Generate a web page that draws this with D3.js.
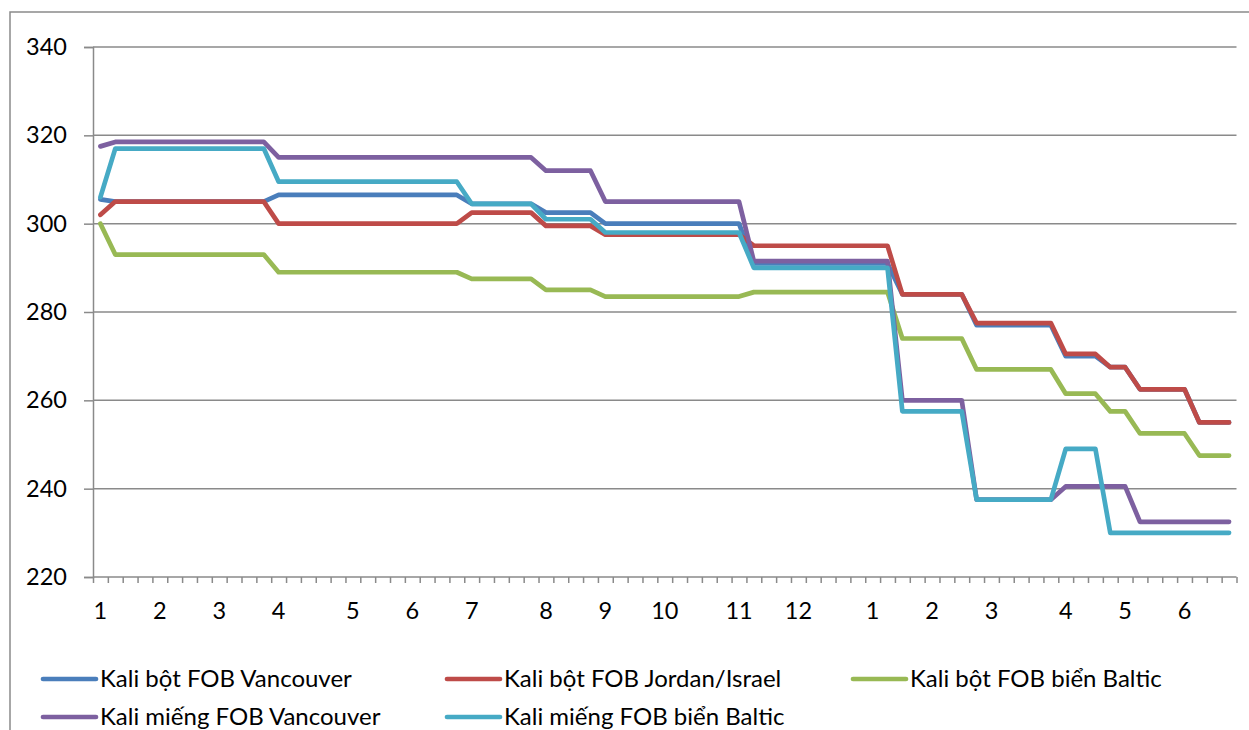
<!DOCTYPE html>
<html>
<head>
<meta charset="utf-8">
<script src="https://cdn.jsdelivr.net/npm/d3@7/dist/d3.min.js"></script>
<style>
  html, body { margin: 0; padding: 0; background: #fff; }
  svg { display: block; }
  text { font-family: Lato, "Open Sans", sans-serif; fill: #000; }
</style>
</head>
<body>
<svg id="chart" width="1249" height="730"></svg>
<script>
// ---- Data (weekly observations; month number shown at first week of each month) ----
const xLabels = [
  "1","","","","2","","","","3","",
  "","","4","","","","","5","","",
  "","6","","","","7","","","","",
  "8","","","","9","","","","10","",
  "","","","11","","","","12","","",
  "","","1","","","","2","","","",
  "3","","","","","4","","","","5",
  "","","","6","","",""
];

const seriesNames = [
  "Kali bột FOB Vancouver",
  "Kali bột FOB Jordan/Israel",
  "Kali bột FOB biển Baltic",
  "Kali miếng FOB Vancouver",
  "Kali miếng FOB biển Baltic"
];

const kaliBotVancouver = [
  305.5,305,305,305,305,305,305,305,305,305,
  305,305,306.5,306.5,306.5,306.5,306.5,306.5,306.5,306.5,
  306.5,306.5,306.5,306.5,306.5,304.5,304.5,304.5,304.5,304.5,
  302.5,302.5,302.5,302.5,300,300,300,300,300,300,
  300,300,300,300,291,291,291,291,291,291,
  291,291,291,291,284,284,284,284,284,277,
  277,277,277,277,277,270,270,270,267.5,267.5,
  262.5,262.5,262.5,262.5,255,255,255
];

const kaliBotJordan = [
  302,305,305,305,305,305,305,305,305,305,
  305,305,300,300,300,300,300,300,300,300,
  300,300,300,300,300,302.5,302.5,302.5,302.5,302.5,
  299.5,299.5,299.5,299.5,297.5,297.5,297.5,297.5,297.5,297.5,
  297.5,297.5,297.5,297.5,295,295,295,295,295,295,
  295,295,295,295,284,284,284,284,284,277.5,
  277.5,277.5,277.5,277.5,277.5,270.5,270.5,270.5,267.5,267.5,
  262.5,262.5,262.5,262.5,255,255,255
];

const kaliBotBaltic = [
  300,293,293,293,293,293,293,293,293,293,
  293,293,289,289,289,289,289,289,289,289,
  289,289,289,289,289,287.5,287.5,287.5,287.5,287.5,
  285,285,285,285,283.5,283.5,283.5,283.5,283.5,283.5,
  283.5,283.5,283.5,283.5,284.5,284.5,284.5,284.5,284.5,284.5,
  284.5,284.5,284.5,284.5,274,274,274,274,274,267,
  267,267,267,267,267,261.5,261.5,261.5,257.5,257.5,
  252.5,252.5,252.5,252.5,247.5,247.5,247.5
];

const kaliMiengVancouver = [
  317.5,318.5,318.5,318.5,318.5,318.5,318.5,318.5,318.5,318.5,
  318.5,318.5,315,315,315,315,315,315,315,315,
  315,315,315,315,315,315,315,315,315,315,
  312,312,312,312,305,305,305,305,305,305,
  305,305,305,305,291.5,291.5,291.5,291.5,291.5,291.5,
  291.5,291.5,291.5,291.5,260,260,260,260,260,237.5,
  237.5,237.5,237.5,237.5,237.5,240.5,240.5,240.5,240.5,240.5,
  232.5,232.5,232.5,232.5,232.5,232.5,232.5
];

const kaliMiengBaltic = [
  306,317,317,317,317,317,317,317,317,317,
  317,317,309.5,309.5,309.5,309.5,309.5,309.5,309.5,309.5,
  309.5,309.5,309.5,309.5,309.5,304.5,304.5,304.5,304.5,304.5,
  301,301,301,301,298,298,298,298,298,298,
  298,298,298,298,290,290,290,290,290,290,
  290,290,290,290,257.5,257.5,257.5,257.5,257.5,237.5,
  237.5,237.5,237.5,237.5,237.5,249,249,249,230,230,
  230,230,230,230,230,230,230
];

const yTicks = [220, 240, 260, 280, 300, 320, 340];
const colors = ["#4A7EBB", "#BE4B48", "#98B954", "#7D60A0", "#46AAC5"];

// ---- Layout ----
const svg = d3.select("#chart");
const plotLeft = 93, plotRight = 1236.5, plotTop = 47, plotBottom = 577;
const gridColor = "#8a8a8a";

const allSeries = [kaliBotVancouver, kaliBotJordan, kaliBotBaltic, kaliMiengVancouver, kaliMiengBaltic];
const idx = d3.range(xLabels.length);

const x = d3.scaleBand().domain(idx).range([plotLeft, plotRight]).paddingInner(0).paddingOuter(0);
const xEdges = d3.scaleLinear().domain([0, xLabels.length]).range([plotLeft, plotRight]);
const y = d3.scaleLinear().domain([220, 340]).range([plotBottom, plotTop]);

// Outer frame
svg.append("rect")
  .attr("x", 10).attr("y", 12).attr("width", 1400).attr("height", 900)
  .attr("fill", "none").attr("stroke", gridColor).attr("stroke-width", 1.5);

// Gridlines
svg.append("g").selectAll("line").data(yTicks.filter(v => v !== 220)).join("line")
  .attr("x1", plotLeft).attr("x2", plotRight)
  .attr("y1", d => y(d)).attr("y2", d => y(d))
  .attr("stroke", gridColor).attr("stroke-width", 1.5);

// Y axis
const yAxis = svg.append("g").attr("transform", `translate(${plotLeft},0)`)
  .call(d3.axisLeft(y).tickValues(yTicks).tickSize(9).tickPadding(17).tickFormat(d3.format("d")));
yAxis.select(".domain").attr("stroke", gridColor).attr("stroke-width", 1.5);
yAxis.selectAll(".tick line").attr("stroke", gridColor).attr("stroke-width", 1.5);
yAxis.selectAll("text").style("font-size", "23.5px").style("font-family", "Lato, sans-serif").attr("fill", "#000");

// X axis tick marks (between categories)
const xTickAxis = svg.append("g").attr("transform", `translate(0,${plotBottom})`)
  .call(d3.axisBottom(xEdges).tickValues(d3.range(xLabels.length + 1)).tickSize(6).tickFormat(""));
xTickAxis.select(".domain").attr("stroke", gridColor).attr("stroke-width", 1.5).attr("d", `M${plotLeft},0H${plotRight}`);
xTickAxis.selectAll(".tick line").attr("stroke", gridColor).attr("stroke-width", 1.5);

// X labels
const xLabelAxis = svg.append("g").attr("transform", `translate(0,${plotBottom})`)
  .call(d3.axisBottom(x).tickSize(0).tickPadding(25).tickFormat(i => xLabels[i]));
xLabelAxis.select(".domain").remove();
xLabelAxis.selectAll("text").style("font-size", "23.5px").style("font-family", "Lato, sans-serif").attr("fill", "#000");

// Lines
const line = d3.line()
  .x((d, i) => x(i) + x.bandwidth() / 2)
  .y(d => y(d));

svg.append("g").selectAll("path").data(allSeries).join("path")
  .attr("d", d => line(d))
  .attr("fill", "none")
  .attr("stroke", (d, i) => colors[i])
  .attr("stroke-width", 4.7)
  .attr("stroke-linejoin", "round")
  .attr("stroke-linecap", "round");

// Legend
const legendPos = [
  {x: 43, y: 679}, {x: 447, y: 679}, {x: 853, y: 679},
  {x: 43, y: 717}, {x: 447, y: 717}
];
const lg = svg.append("g").selectAll("g").data(seriesNames).join("g")
  .attr("transform", (d, i) => `translate(${legendPos[i].x},${legendPos[i].y})`);
lg.append("line")
  .attr("x1", 0).attr("x2", 53).attr("y1", 0).attr("y2", 0)
  .attr("stroke", (d, i) => colors[i]).attr("stroke-width", 4.7).attr("stroke-linecap", "round");
lg.append("text")
  .attr("x", 57).attr("y", 0).attr("dy", "0.35em")
  .style("font-size", "24px")
  .text(d => d);
</script>
</body>
</html>
